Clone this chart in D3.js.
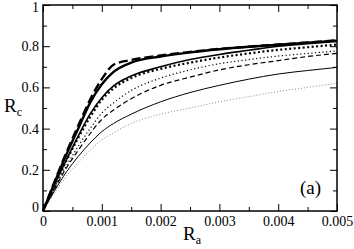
<html>
<head>
  <style>
    body { margin: 0; background: white; }
    svg text { font-family: "Liberation Serif", "DejaVu Serif", serif; fill: black; }
    svg .frame { fill: none; stroke: black; stroke-width: 1.5px; }
  </style>
</head>
<body>
  <div id="chart"></div>
  <script src="https://d3js.org/d3.v7.min.js"></script>
  <script>
  // sample positions along Ra
  var ra = [0, 0.0002, 0.0004, 0.0006, 0.0008, 0.001, 0.0012, 0.0015, 0.002, 0.0025, 0.003, 0.0035, 0.004, 0.0045, 0.005];

  // Rc values
  var thickDashed = [0, 0.145, 0.285, 0.415, 0.54, 0.64, 0.71, 0.733, 0.755, 0.772, 0.787, 0.798, 0.808, 0.818, 0.829];
  var thickSolid  = [0, 0.14, 0.275, 0.40, 0.525, 0.615, 0.675, 0.72, 0.75, 0.77, 0.785, 0.797, 0.807, 0.817, 0.827];
  var midSolid    = [0, 0.13, 0.25, 0.365, 0.47, 0.55, 0.607, 0.655, 0.70, 0.735, 0.76, 0.78, 0.80, 0.812, 0.823];
  var thickDotted = [0, 0.125, 0.245, 0.355, 0.455, 0.54, 0.595, 0.645, 0.69, 0.72, 0.745, 0.765, 0.782, 0.795, 0.808];
  var thinDotted  = [0, 0.115, 0.22, 0.315, 0.40, 0.475, 0.525, 0.585, 0.645, 0.685, 0.715, 0.735, 0.752, 0.765, 0.777];
  var thinDashed  = [0, 0.11, 0.21, 0.295, 0.375, 0.445, 0.49, 0.545, 0.61, 0.65, 0.685, 0.71, 0.73, 0.75, 0.765];
  var thinSolid   = [0, 0.10, 0.19, 0.265, 0.33, 0.385, 0.425, 0.47, 0.53, 0.575, 0.61, 0.64, 0.665, 0.682, 0.697];
  var grayDotted  = [0, 0.09, 0.17, 0.235, 0.295, 0.345, 0.38, 0.425, 0.47, 0.50, 0.53, 0.555, 0.58, 0.60, 0.62];

  var xTicks = [0, 0.001, 0.002, 0.003, 0.004, 0.005];
  var xMinor = [0.0005, 0.0015, 0.0025, 0.0035, 0.0045];
  var yTicks = [0, 0.2, 0.4, 0.6, 0.8, 1];
  var yMinor = [0.1, 0.3, 0.5, 0.7, 0.9];

  var series = [
    { v: grayDotted,  w: 1,   c: "#888", dash: "1,2" },
    { v: thinSolid,   w: 1,   c: "black", dash: null },
    { v: thinDashed,  w: 1.2, c: "black", dash: "5,3" },
    { v: thinDotted,  w: 1.2, c: "black", dash: "1.2,2.5" },
    { v: thickDotted, w: 2.2, c: "black", dash: "2,2.5" },
    { v: midSolid,    w: 1.6, c: "black", dash: null },
    { v: thickSolid,  w: 2.4, c: "black", dash: null },
    { v: thickDashed, w: 2.4, c: "black", dash: "9,4" }
  ];

  var W = 354, H = 249;
  var pad = { left: 43, right: 337, top: 5, bottom: 211 };

  var svg = d3.select("#chart").append("svg")
      .attr("width", W).attr("height", H);

  var x = d3.scaleLinear().domain([0, 0.005]).range([pad.left, pad.right]);
  var y = d3.scaleLinear().domain([0, 1]).range([pad.bottom, pad.top]);

  // curves
  var line = d3.line()
    .x(function (d, i) { return x(ra[i]); })
    .y(function (d) { return y(d); })
    .curve(d3.curveMonotoneX);

  series.forEach(function (s) {
    svg.append("path")
      .attr("d", line(s.v))
      .attr("fill", "none")
      .attr("stroke", s.c)
      .attr("stroke-width", s.w)
      .attr("stroke-dasharray", s.dash);
  });

  // axes, ticks pointing inward on all four sides
  function fmt(d) { return d === 0 ? "0" : String(+d.toFixed(4)); }

  var xb = svg.append("g").attr("transform", "translate(0," + pad.bottom + ")")
    .call(d3.axisBottom(x).tickValues(xTicks).tickSizeInner(-7).tickSizeOuter(0).tickPadding(5)
      .tickFormat(fmt));
  svg.append("g").attr("transform", "translate(0," + pad.bottom + ")")
    .call(d3.axisBottom(x).tickValues(xMinor).tickSizeInner(-4).tickSizeOuter(0).tickFormat(""));
  svg.append("g").attr("transform", "translate(0," + pad.top + ")")
    .call(d3.axisTop(x).tickValues(xTicks).tickSizeInner(-7).tickSizeOuter(0).tickFormat(""));
  svg.append("g").attr("transform", "translate(0," + pad.top + ")")
    .call(d3.axisTop(x).tickValues(xMinor).tickSizeInner(-4).tickSizeOuter(0).tickFormat(""));

  var yl = svg.append("g").attr("transform", "translate(" + pad.left + ",0)")
    .call(d3.axisLeft(y).tickValues(yTicks).tickSizeInner(-7).tickSizeOuter(0).tickPadding(4)
      .tickFormat(fmt));
  svg.append("g").attr("transform", "translate(" + pad.left + ",0)")
    .call(d3.axisLeft(y).tickValues(yMinor).tickSizeInner(-4).tickSizeOuter(0).tickFormat(""));
  svg.append("g").attr("transform", "translate(" + pad.right + ",0)")
    .call(d3.axisRight(y).tickValues(yTicks).tickSizeInner(-7).tickSizeOuter(0).tickFormat(""));
  svg.append("g").attr("transform", "translate(" + pad.right + ",0)")
    .call(d3.axisRight(y).tickValues(yMinor).tickSizeInner(-4).tickSizeOuter(0).tickFormat(""));

  svg.selectAll(".domain").remove();
  svg.selectAll(".tick line").attr("stroke", "black").attr("stroke-width", 1);
  svg.selectAll(".tick text")
    .style("font-family", "'Liberation Serif', 'DejaVu Serif', serif")
    .style("font-size", "14px")
    .style("fill", "black");

  // the y "1" sits flush with the top, the y "0" a bit higher than its tick
  yl.selectAll(".tick text").filter(function (d) { return d === 1; }).attr("dy", "0.45em");
  yl.selectAll(".tick text").filter(function (d) { return d === 0; }).attr("dy", "0.05em");

  svg.append("rect").classed("frame", true)
    .attr("x", pad.left).attr("y", pad.top)
    .attr("width", pad.right - pad.left).attr("height", pad.bottom - pad.top);

  // axis titles
  var yt = svg.append("text").attr("x", 4).attr("y", 112).style("font-size", "19px").text("R");
  yt.append("tspan").attr("dy", "0.3em").style("font-size", "12px").text("c");

  var xt = svg.append("text").attr("x", 183).attr("y", 240).style("font-size", "19px").text("R");
  xt.append("tspan").attr("dy", "0.3em").style("font-size", "12px").text("a");

  svg.append("text").attr("x", 300).attr("y", 194).style("font-size", "19px").text("(a)");
  </script>
</body>
</html>
